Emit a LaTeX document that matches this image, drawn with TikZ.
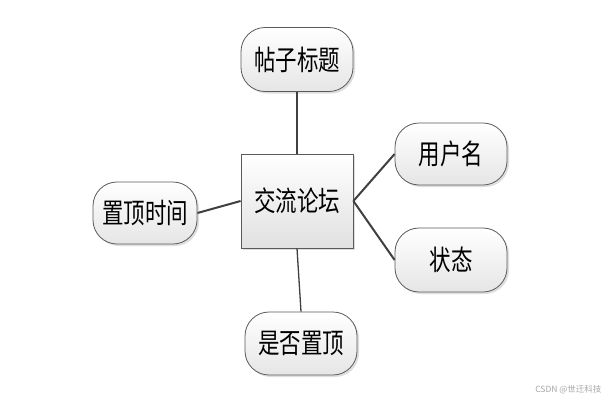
\documentclass[tikz,border=0pt]{standalone}
\usepackage{fontspec}
\usepackage{graphicx}
\newfontfamily\cjk{Noto Sans CJK SC}
\newcommand{\tallt}[1]{\scalebox{1}[1.3]{#1}}
\usetikzlibrary{shapes.misc,shadows}
\definecolor{edgegray}{HTML}{404040}
\definecolor{boxborder}{HTML}{5A5A5A}
\tikzset{
  attr/.style={rounded corners=24pt, draw=boxborder, line width=0.8pt,
    top color=white, bottom color=black!10,
    drop shadow={shadow xshift=2pt, shadow yshift=-2pt, fill=black!25, opacity=0.5},
    minimum width=112pt, minimum height=64pt, inner sep=0pt,
    font=\cjk\fontsize{21.5}{21.5}\selectfont},
  entity/.style={draw=boxborder, line width=0.8pt,
    top color=white, bottom color=black!12,
    drop shadow={shadow xshift=2pt, shadow yshift=-2pt, fill=black!25, opacity=0.5},
    minimum width=112pt, minimum height=94pt, inner sep=0pt,
    font=\cjk\fontsize{21.5}{21.5}\selectfont},
  link/.style={draw=edgegray, line width=1.3pt},
  thicklink/.style={draw=edgegray, line width=2pt}
}
\begin{document}
\begin{tikzpicture}[x=1pt,y=-1pt]
\useasboundingbox[fill=white] (0,0) rectangle (610,402);
\node[entity] (forum) at (297,201) {\tallt{交流论坛}};
\node[attr] (title) at (297,59.5) {\tallt{帖子标题}};
\node[attr, minimum width=104pt, minimum height=62pt] (time) at (145,213) {\tallt{置顶时间}};
\node[attr, minimum height=62pt] (user) at (451,154) {\tallt{用户名}};
\node[attr] (state) at (451,260) {\tallt{状态}};
\node[attr, minimum height=63pt] (top) at (301,343.5) {\tallt{是否置顶}};
\draw[link] (title.south) -- (forum.north);
\draw[link] (forum.south) -- (top.north);
\draw[thicklink] (time.east) -- (forum.west);
\draw[thicklink] (forum.east) -- (user.west);
\draw[thicklink] (forum.east) -- (state.west);
\node[text=black!35, font=\cjk\fontsize{8.5}{9}\selectfont, anchor=east] (wm) at (605,390) {CSDN @世迁科技};
\end{tikzpicture}
\end{document}
